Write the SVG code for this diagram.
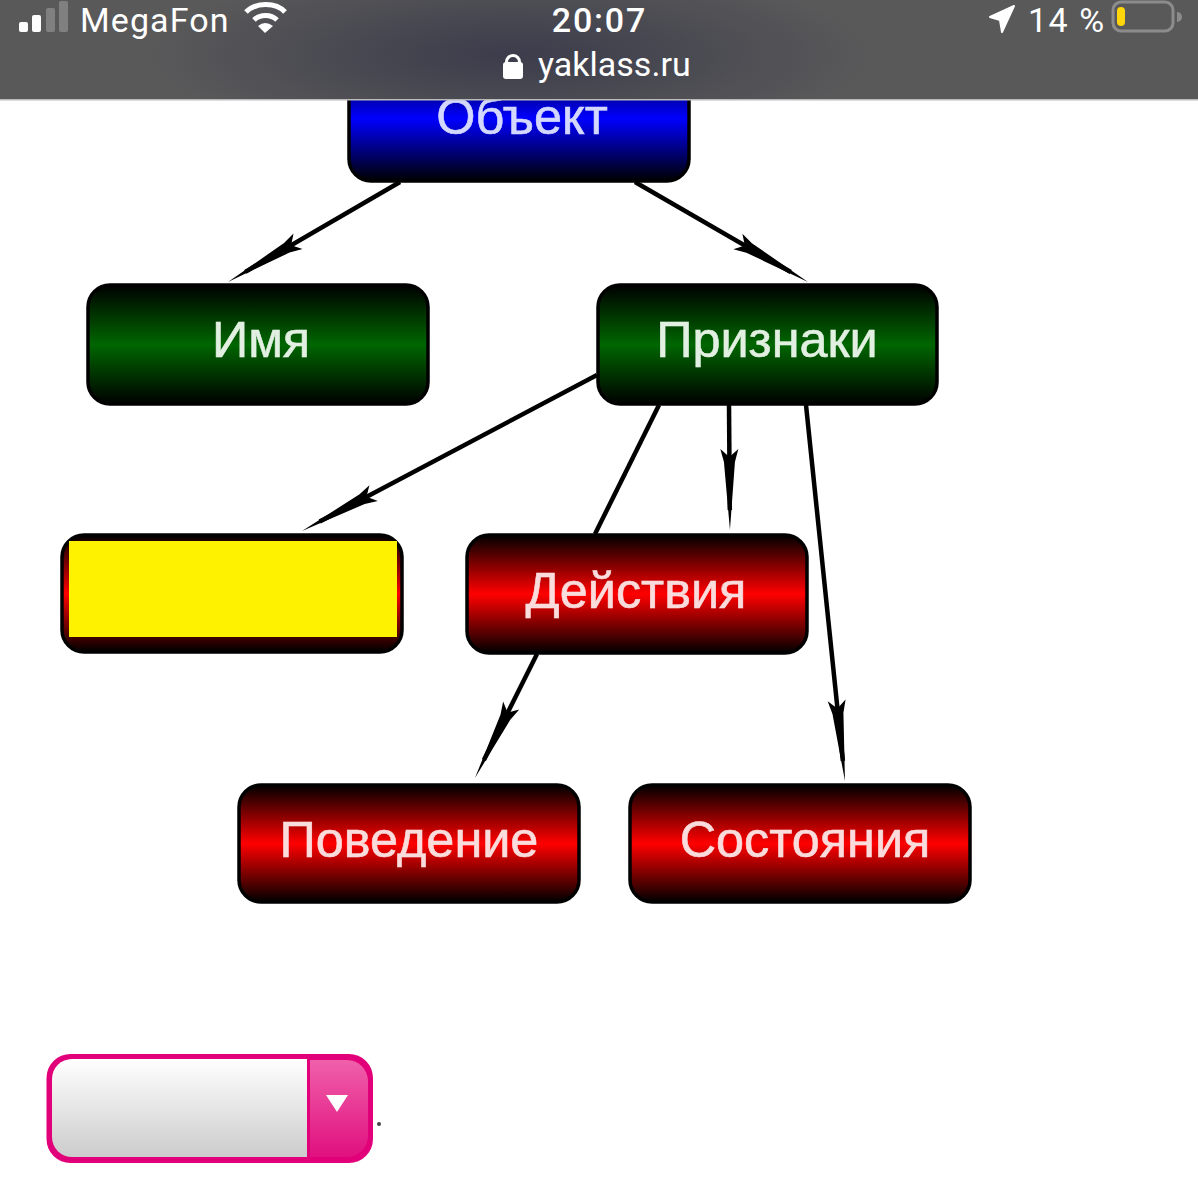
<svg xmlns="http://www.w3.org/2000/svg" width="1198" height="1200" viewBox="0 0 1198 1200">
<style>
.n{stroke:#000;stroke-width:3.5}
.l{font-family:"Liberation Sans",Arial,sans-serif;font-size:50.4px;text-anchor:middle;stroke-width:.6}
.lr{fill:#fbdcdc;stroke:#fbdcdc}.lg{fill:#e2f0e2;stroke:#e2f0e2}.lb{fill:#d4d8ff;stroke:#d4d8ff}
.c{stroke:#000;stroke-width:4.5;fill:none;marker-end:url(#arr)}
.bar{font-family:"Roboto","Liberation Sans",sans-serif;fill:#fff}
</style>
<defs>
<linearGradient id="gr" x1="0" y1="0" x2="0" y2="1"><stop offset="0" stop-color="#000"/><stop offset=".5" stop-color="#f00"/><stop offset="1" stop-color="#000"/></linearGradient>
<linearGradient id="gg" x1="0" y1="0" x2="0" y2="1"><stop offset="0" stop-color="#000"/><stop offset=".5" stop-color="#060"/><stop offset="1" stop-color="#000"/></linearGradient>
<linearGradient id="gb" x1="0" y1="0" x2="0" y2="1"><stop offset="0" stop-color="#000"/><stop offset=".5" stop-color="#00f"/><stop offset="1" stop-color="#000"/></linearGradient>
<linearGradient id="gs" x1="0" y1="0" x2="0" y2="1"><stop offset="0" stop-color="#fff"/><stop offset="1" stop-color="#ccc"/></linearGradient>
<linearGradient id="gp" x1="0" y1="0" x2="0" y2="1"><stop offset="0" stop-color="#f060aa"/><stop offset="1" stop-color="#e0107f"/></linearGradient>
<radialGradient id="gbar" gradientUnits="userSpaceOnUse" cx="0" cy="0" r="1" gradientTransform="translate(510 55) scale(360 90)"><stop offset="0" stop-color="#3c3c4c"/><stop offset=".5" stop-color="#4a4a52"/><stop offset="1" stop-color="#59595a"/></radialGradient>
<marker id="arr" markerUnits="userSpaceOnUse" markerWidth="90" markerHeight="24" refX="62" refY="12" orient="auto" overflow="visible"><path d="M82 12L14 17.500L1 21L9 12L1 3L14 6.500Z" fill="#000"/></marker>
</defs>
<rect width="1198" height="1200" fill="#fff"/>
<g id="connectors">
<path class="c" d="M400 182L245.300 271.900"/>
<path class="c" d="M635 182L790.700 272"/>
<path class="c" d="M597 375L319.700 521.600"/>
<path d="M659 405L595 534" stroke="#000" stroke-width="4.500" fill="none"/>
<path class="c" d="M729 405L729.800 510"/>
<path class="c" d="M806 405L842.900 761.100"/>
<path class="c" d="M537 654L483.900 760.100"/>
</g>
<g id="node-object"><rect class="n" x="349" y="56" width="340" height="125" rx="22" fill="url(#gb)"/><text class="l lb" x="522" y="134">Объект</text></g>
<g id="node-name"><rect class="n" x="88" y="285" width="340" height="119" rx="22" fill="url(#gg)"/><text class="l lg" x="261" y="357">Имя</text></g>
<g id="node-features"><rect class="n" x="598" y="285" width="339" height="119" rx="22" fill="url(#gg)"/><text class="l lg" x="767" y="357">Признаки</text></g>
<g id="node-blank"><rect class="n" x="62" y="535" width="340" height="117" rx="22" fill="url(#gr)"/><rect x="69" y="541" width="328" height="96" fill="#fff200"/></g>
<g id="node-actions"><rect class="n" x="467" y="535" width="340" height="118" rx="22" fill="url(#gr)"/><text class="l lr" x="636" y="608">Действия</text></g>
<g id="node-behaviour"><rect class="n" x="239" y="785" width="340" height="117" rx="22" fill="url(#gr)"/><text class="l lr" x="409" y="857">Поведение</text></g>
<g id="node-states"><rect class="n" x="630" y="785" width="340" height="117" rx="22" fill="url(#gr)"/><text class="l lr" x="805" y="857">Состояния</text></g>
<g id="dropdown">
<rect x="46.500" y="1054" width="326.500" height="109" rx="24" fill="#e2007a"/>
<path d="M310 1060H347a21 21 0 0 1 21 21V1136a21 21 0 0 1-21 21H310Z" fill="url(#gp)"/>
<path d="M72 1059H307V1157H72a20 20 0 0 1-20-20V1079a20 20 0 0 1 20-20Z" fill="url(#gs)"/>
<path d="M326 1095H348L337 1112Z" fill="#fff"/>
<circle cx="379" cy="1124" r="2" fill="#444"/>
</g>
<g id="statusbar">
<rect width="1198" height="100" fill="url(#gbar)"/>
<rect y="99" width="1198" height="1.500" fill="#bbb"/>
<rect x="19" y="22" width="9" height="10" rx="2" fill="#fff"/>
<rect x="32" y="15" width="9" height="17" rx="2" fill="#fff"/>
<rect x="46" y="8" width="9" height="24" rx="2" fill="#808080"/>
<rect x="59" y="1" width="9" height="31" rx="2" fill="#808080"/>
<text class="bar" x="80" y="31.500" font-size="34" letter-spacing="1.100">MegaFon</text>
<g fill="none" stroke="#fff" stroke-width="5"><path d="M246 12C256 2 276 2 285 12"/><path d="M254 20C260 14 271 14 277 20"/></g>
<path d="M258 26Q265 20 273 26L265 33Z" fill="#fff"/>
<text class="bar" x="599.500" y="31.500" font-size="34" font-weight="500" letter-spacing="1.800" text-anchor="middle">20:07</text>
<path d="M505 62a8 8 0 0 1 16 0v4h-3v-4a5 5 0 0 0-10 0v4h-3Z" fill="#fff"/><rect x="503" y="62" width="20" height="17" rx="3" fill="#fff"/>
<text class="bar" x="538" y="76" font-size="34">yaklass.ru</text>
<path d="M990 17L1014 6L1002 32L1000 20Z" fill="#fff" stroke="#fff" stroke-width="2" stroke-linejoin="round"/>
<text class="bar" x="1028" y="31.500" font-size="34" letter-spacing="1.500">14 %</text>
<rect x="1113" y="2" width="60" height="29" rx="8" fill="none" stroke="#8c8c8c" stroke-width="3"/>
<rect x="1117" y="7" width="8" height="19" rx="4" fill="#ffd60a"/>
<path d="M1177 12a5 5 0 0 1 0 10Z" fill="#8c8c8c"/>
</g>
</svg>
